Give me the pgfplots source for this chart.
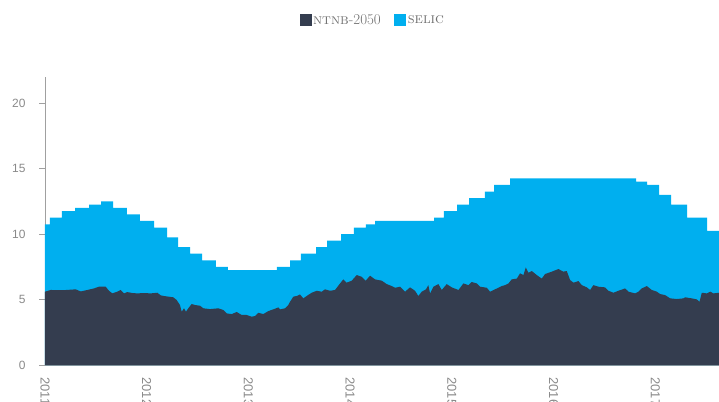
\documentclass[border=0pt]{standalone}
\usepackage{fontspec}
\setsansfont{Liberation Sans}
\usepackage{pgfplots}
\pgfplotsset{compat=1.18}
\definecolor{ntnb}{HTML}{343D4F}
\definecolor{selic}{HTML}{00AFEF}
\definecolor{tickgray}{HTML}{8A8A8A}
\definecolor{axgray}{HTML}{A0A0A0}
\definecolor{leggray}{HTML}{707070}
\begin{document}
\begin{tikzpicture}
\begin{axis}[
  name=ax,
  scale only axis,
  width=674bp, height=288bp,
  xmin=2011, xmax=2017.627,
  ymin=0, ymax=22,
  axis lines*=left,
  axis line style={draw=axgray, line width=0.8bp},
  xtick={2011,2012,2013,2014,2015,2016,2017},
  xticklabels={2011,2012,2013,2014,2015,2016,2017},
  ytick={0,5,10,15,20},
  tick align=outside,
  major tick length=6bp,
  x tick style={draw=none},
  y tick style={draw=axgray, line width=0.8bp},
  ticklabel style={font=\sffamily\fontsize{12}{14}\selectfont, text=tickgray},
  /pgf/number format/assume math mode=true,
  xticklabel style={rotate=-90, anchor=west, xshift=3bp, font=\sffamily\fontsize{13}{15}\selectfont},
  yticklabel style={xshift=-10bp},
  legend style={draw=none, fill=none, at={(0.486,1.198)}, anchor=center,
    legend columns=2, font=\fontsize{15}{17}\selectfont, text=leggray,
    /tikz/every even column/.append style={column sep=12bp},
    nodes={inner sep=1.5bp}},
  legend image code/.code={\fill[#1] (0bp,-6bp) rectangle (12bp,6bp);},
]
\addlegendimage{fill=ntnb, draw=none}
\addlegendentry{\textsc{ntnb}-\oldstylenums{2050}}
\addlegendimage{fill=selic, draw=none}
\addlegendentry{\textsc{selic}}

% SELIC target rate (steps)
\addplot[const plot, fill=selic, draw=none, forget plot] coordinates {
(2011.000,10.75) (2011.049,11.25) (2011.167,11.75) (2011.295,12.00)
(2011.433,12.25) (2011.551,12.50) (2011.669,12.00) (2011.806,11.50)
(2011.934,11.00) (2012.072,10.50) (2012.200,9.75) (2012.308,9.00)
(2012.426,8.50) (2012.544,8.00) (2012.681,7.50) (2012.799,7.25)
(2013.281,7.50) (2013.409,8.00) (2013.517,8.50) (2013.665,9.00)
(2013.773,9.50) (2013.911,10.00) (2014.038,10.50) (2014.156,10.75)
(2014.245,11.00) (2014.825,11.25) (2014.923,11.75) (2015.051,12.25)
(2015.169,12.75) (2015.326,13.25) (2015.415,13.75) (2015.572,14.25)
(2016.811,14.00) (2016.919,13.75) (2017.037,13.00) (2017.155,12.25)
(2017.313,11.25) (2017.509,10.25) (2017.627,10.25)
} \closedcycle;

% NTNB-2050 yield
\addplot[fill=ntnb, draw=none, forget plot] coordinates {
(2011.000,5.60) (2011.056,5.73) (2011.187,5.72) (2011.302,5.78)
(2011.351,5.62) (2011.416,5.73) (2011.482,5.85) (2011.531,5.98)
(2011.597,5.98) (2011.629,5.67) (2011.662,5.47) (2011.711,5.60)
(2011.744,5.73) (2011.777,5.47) (2011.809,5.57) (2011.858,5.50)
(2011.908,5.47) (2011.973,5.50) (2012.039,5.47) (2012.104,5.52)
(2012.138,5.32) (2012.170,5.27) (2012.262,5.17) (2012.295,4.96)
(2012.327,4.58) (2012.344,4.07) (2012.367,4.33) (2012.386,4.07)
(2012.409,4.33) (2012.442,4.66) (2012.475,4.58) (2012.524,4.53)
(2012.557,4.33) (2012.622,4.27) (2012.704,4.33) (2012.753,4.20)
(2012.787,3.94) (2012.836,3.89) (2012.885,4.05) (2012.934,3.82)
(2012.983,3.82) (2013.032,3.69) (2013.065,3.74) (2013.097,3.99)
(2013.147,3.89) (2013.196,4.12) (2013.245,4.25) (2013.294,4.40)
(2013.311,4.25) (2013.360,4.33) (2013.392,4.58) (2013.409,4.83)
(2013.442,5.22) (2013.475,5.27) (2013.507,5.39) (2013.540,5.09)
(2013.573,5.27) (2013.622,5.52) (2013.672,5.67) (2013.721,5.60)
(2013.753,5.78) (2013.802,5.67) (2013.852,5.73) (2013.901,6.23)
(2013.933,6.54) (2013.966,6.29) (2014.016,6.44) (2014.065,6.87)
(2014.114,6.74) (2014.153,6.44) (2014.196,6.82) (2014.245,6.54)
(2014.311,6.44) (2014.360,6.18) (2014.409,6.03) (2014.442,5.90)
(2014.491,5.98) (2014.540,5.60) (2014.589,5.93) (2014.638,5.67)
(2014.671,5.27) (2014.704,5.60) (2014.746,5.78) (2014.769,6.10)
(2014.786,5.47) (2014.819,5.98) (2014.868,6.18) (2014.901,5.73)
(2014.950,6.18) (2014.999,5.93) (2015.065,5.73) (2015.114,6.23)
(2015.163,6.10) (2015.196,6.34) (2015.245,6.23) (2015.278,5.98)
(2015.344,5.90) (2015.376,5.60) (2015.425,5.78) (2015.491,6.03)
(2015.524,6.10) (2015.557,6.23) (2015.589,6.54) (2015.639,6.60)
(2015.671,7.00) (2015.704,6.87) (2015.727,7.45) (2015.753,7.05)
(2015.786,7.18) (2015.835,6.87) (2015.884,6.60) (2015.917,6.95)
(2015.983,7.13) (2016.048,7.33) (2016.097,7.13) (2016.130,7.18)
(2016.163,6.49) (2016.196,6.29) (2016.245,6.41) (2016.278,6.10)
(2016.327,5.93) (2016.360,5.73) (2016.392,6.10) (2016.442,5.98)
(2016.507,5.93) (2016.540,5.67) (2016.589,5.52) (2016.638,5.67)
(2016.704,5.85) (2016.737,5.60) (2016.802,5.47) (2016.835,5.60)
(2016.868,5.85) (2016.917,6.03) (2016.966,5.73) (2017.016,5.60)
(2017.048,5.42) (2017.097,5.34) (2017.147,5.09) (2017.212,5.04)
(2017.278,5.09) (2017.294,5.17) (2017.360,5.09) (2017.409,5.01)
(2017.435,4.83) (2017.458,5.52) (2017.507,5.47) (2017.540,5.60)
(2017.573,5.47) (2017.627,5.52)
} \closedcycle;
\end{axis}
\pgfresetboundingbox
\path[use as bounding box] ([xshift=-45bp,yshift=-37bp]ax.south west) rectangle ([yshift=77bp]ax.north east);
\end{tikzpicture}
\end{document}
